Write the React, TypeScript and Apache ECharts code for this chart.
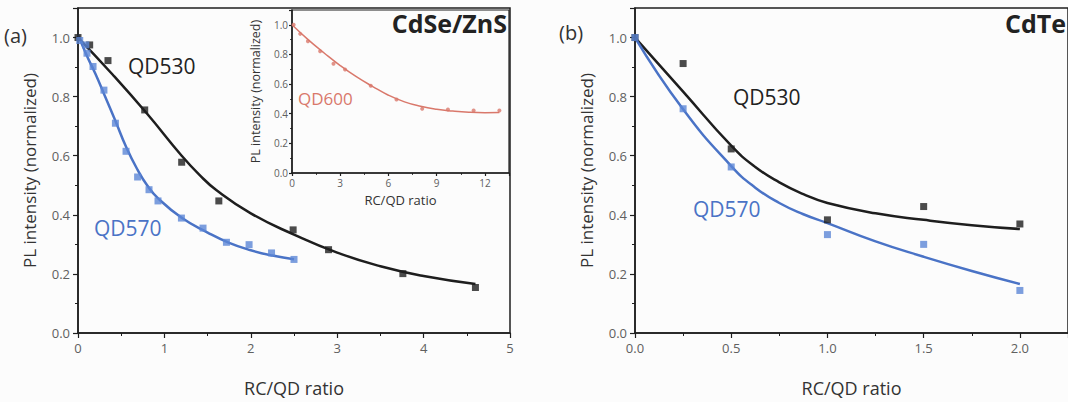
import React, { useEffect, useRef } from "react";
import * as echarts from "echarts";

// ---- Panel (a): CdSe/ZnS quantum dots ----
const qd530aPoints: number[][] = [
  [0, 1.0], [0.135, 0.975], [0.347, 0.922], [0.772, 0.755], [1.2, 0.578],
  [1.63, 0.447], [2.49, 0.349], [2.9, 0.282], [3.76, 0.201], [4.6, 0.154],
];
const qd530aFit: number[][] = [
  [0, 1.0], [0.4, 0.875], [0.8, 0.742], [1.2, 0.6], [1.4, 0.537], [1.6, 0.484],
  [2.0, 0.405], [2.5, 0.333], [3.0, 0.272], [3.5, 0.226], [4.0, 0.193], [4.6, 0.166],
];
const qd570aPoints: number[][] = [
  [0.02, 0.99], [0.09, 0.975], [0.104, 0.947], [0.174, 0.902], [0.3, 0.822],
  [0.433, 0.71], [0.556, 0.615], [0.69, 0.528], [0.822, 0.485], [0.926, 0.447],
  [1.197, 0.389], [1.447, 0.355], [1.718, 0.307], [1.98, 0.299], [2.24, 0.271],
  [2.5, 0.249],
];
const qd570aFit: number[][] = [
  [0, 1.01], [0.1, 0.94], [0.2, 0.878], [0.3, 0.81], [0.43, 0.72],
  [0.56, 0.628], [0.69, 0.552], [0.8, 0.5], [0.93, 0.455], [1.2, 0.39],
  [1.5, 0.34], [1.75, 0.305], [2.0, 0.28], [2.25, 0.262], [2.5, 0.25],
];

// ---- Inset: QD600 ----
const qd600Points: number[][] = [
  [0.1, 1.0], [0.51, 0.939], [0.99, 0.889], [1.75, 0.822], [2.58, 0.737],
  [3.3, 0.698], [4.9, 0.589], [6.5, 0.496], [8.1, 0.434], [9.7, 0.429],
  [11.3, 0.422], [12.9, 0.422],
];
const qd600Fit: number[][] = [
  [0, 1.0], [1, 0.9], [2, 0.81], [3, 0.725], [4, 0.65], [5, 0.585],
  [6, 0.525], [7, 0.48], [8, 0.45], [9, 0.43], [10, 0.418], [11, 0.41],
  [12, 0.407], [12.9, 0.408],
];

// ---- Panel (b): CdTe quantum dots ----
const qd530bPoints: number[][] = [
  [0, 1.0], [0.25, 0.912], [0.5, 0.623], [1.0, 0.383], [1.5, 0.428], [2.0, 0.369],
];
const qd530bFit: number[][] = [
  [0, 1.0], [0.25, 0.817], [0.5, 0.634], [0.625, 0.562], [0.75, 0.51],
  [0.875, 0.47], [1.0, 0.44], [1.25, 0.405], [1.5, 0.383], [1.75, 0.365], [2.0, 0.352],
];
const qd570bPoints: number[][] = [
  [0, 1.0], [0.25, 0.759], [0.5, 0.562], [1.0, 0.333], [1.5, 0.3], [2.0, 0.144],
];
const qd570bFit: number[][] = [
  [0, 1.0], [0.25, 0.757], [0.5, 0.565], [0.625, 0.492], [0.75, 0.44],
  [0.875, 0.402], [1.0, 0.372], [1.25, 0.31], [1.5, 0.258], [1.75, 0.21], [2.0, 0.166],
];

const yName = "PL intensity (normalized)";
const xName = "RC/QD ratio";

const FONT = "'Open Sans', 'Noto Sans', sans-serif";
const INK = "#1e1e1e";
const LABEL = "#606060";
const BLUE_LINE = "#4a73c6";
const BLUE_PT = "#5b86d6";
const RED = "#d9786b";

function axisBase(fontSize: number, tickLen: number, showMax: boolean, formatter: (v: number) => string, margin: number) {
  return {
    axisLine: { show: true, onZero: false, lineStyle: { color: INK, width: 1.5 } },
    axisTick: { show: true, inside: false, length: tickLen, lineStyle: { color: INK, width: 1.2 } },
    minorTick: { show: true, splitNumber: 2, length: tickLen * 0.6, lineStyle: { color: INK, width: 1 } },
    splitLine: { show: false },
    minorSplitLine: { show: false },
    axisLabel: { color: LABEL, fontSize, fontFamily: FONT, showMaxLabel: showMax, formatter, margin },
  };
}

export default function App() {
  const ref = useRef<HTMLDivElement>(null);

  useEffect(() => {
    if (!ref.current) return;
    const chart = echarts.init(ref.current, undefined, { renderer: "svg" });

    const fmt1 = (v: number) => v.toFixed(1);
    const fmt0 = (v: number) => String(Math.round(v));

    const scatter = (xi: number, data: number[][], color: string, size: number, symbol = "rect") => ({
      type: "scatter",
      xAxisIndex: xi,
      yAxisIndex: xi,
      data,
      symbol,
      symbolSize: size,
      itemStyle: { color },
      z: 3,
    });
    const fit = (xi: number, data: number[][], color: string, width: number) => ({
      type: "line",
      xAxisIndex: xi,
      yAxisIndex: xi,
      data,
      smooth: 0.5,
      showSymbol: false,
      symbol: "none",
      lineStyle: { color, width },
      z: 2,
    });

    chart.setOption({
      animation: false,
      backgroundColor: "#fcfcfc",
      grid: [
        { left: 78, top: 8, width: 432, height: 328, show: true, borderColor: INK, borderWidth: 1.5, backgroundColor: "transparent" },
        { left: 292, top: 10, width: 217, height: 163, show: true, borderColor: INK, borderWidth: 1.2, backgroundColor: "transparent" },
        { left: 635, top: 8, width: 436, height: 329, show: true, borderColor: INK, borderWidth: 1.5, backgroundColor: "transparent" },
      ],
      xAxis: [
        {
          ...axisBase(13, 5, true, fmt0, 8), gridIndex: 0, type: "value", min: 0, max: 5, interval: 1,
          name: xName, nameLocation: "middle", nameGap: 46,
          nameTextStyle: { color: "#333", fontFamily: FONT, fontSize: 18 },
        },
        {
          ...axisBase(10, 3, false, fmt0, 5), gridIndex: 1, type: "value", min: 0, max: 13.5, interval: 3,
          name: xName, nameLocation: "middle", nameGap: 20,
          nameTextStyle: { color: "#333", fontFamily: FONT, fontSize: 13 },
        },
        {
          ...axisBase(13, 5, false, fmt1, 8), gridIndex: 2, type: "value", min: 0, max: 2.25, interval: 0.5,
          name: xName, nameLocation: "middle", nameGap: 46,
          nameTextStyle: { color: "#333", fontFamily: FONT, fontSize: 18 },
        },
      ],
      yAxis: [
        {
          ...axisBase(13, 5, false, fmt1, 8), gridIndex: 0, type: "value", min: 0, max: 1.1, interval: 0.2,
          name: yName, nameLocation: "middle", nameGap: 40, nameRotate: 90,
          nameTextStyle: { color: "#333", fontFamily: FONT, fontSize: 17 },
        },
        {
          ...axisBase(10, 3, false, fmt1, 4), gridIndex: 1, type: "value", min: 0, max: 1.1, interval: 0.2,
          name: yName, nameLocation: "middle", nameGap: 30, nameRotate: 90,
          nameTextStyle: { color: "#333", fontFamily: FONT, fontSize: 12.5 },
        },
        {
          ...axisBase(13, 5, false, fmt1, 8), gridIndex: 2, type: "value", min: 0, max: 1.1, interval: 0.2,
          name: yName, nameLocation: "middle", nameGap: 40, nameRotate: 90,
          nameTextStyle: { color: "#333", fontFamily: FONT, fontSize: 17 },
        },
      ],
      series: [
        fit(0, qd530aFit, INK, 2.5),
        scatter(0, qd530aPoints, INK, 7),
        fit(0, qd570aFit, BLUE_LINE, 2.5),
        scatter(0, qd570aPoints, BLUE_PT, 7),
        fit(1, qd600Fit, RED, 1.5),
        scatter(1, qd600Points, RED, 4, "circle"),
        fit(2, qd530bFit, INK, 2.5),
        scatter(2, qd530bPoints, INK, 7),
        fit(2, qd570bFit, BLUE_LINE, 2.5),
        scatter(2, qd570bPoints, BLUE_PT, 7),
      ],
      graphic: [
        { type: "text", left: 4, top: 25, style: { text: "(a)", fontSize: 20, fontFamily: FONT, fill: "#333" } },
        { type: "text", left: 559, top: 22, style: { text: "(b)", fontSize: 20, fontFamily: FONT, fill: "#333" } },
        { type: "text", left: 128, top: 55, style: { text: "QD530", fontSize: 21, fontFamily: FONT, fill: "#222" } },
        { type: "text", left: 94, top: 217, style: { text: "QD570", fontSize: 21, fontFamily: FONT, fill: BLUE_LINE } },
        { type: "text", left: 298, top: 90, style: { text: "QD600", fontSize: 17, fontFamily: FONT, fill: RED } },
        { type: "text", right: 561, top: 10, style: { text: "CdSe/ZnS", fontSize: 25, fontWeight: "bold", fontFamily: FONT, fill: "#222" } },
        { type: "text", left: 1005, top: 10, style: { text: "CdTe", fontSize: 25, fontWeight: "bold", fontFamily: FONT, fill: "#222" } },
        { type: "text", left: 733, top: 86, style: { text: "QD530", fontSize: 21, fontFamily: FONT, fill: "#222" } },
        { type: "text", left: 693, top: 198, style: { text: "QD570", fontSize: 21, fontFamily: FONT, fill: BLUE_LINE } },
      ],
    });

    return () => chart.dispose();
  }, []);

  return (
    <div
      ref={ref}
      style={{ position: "absolute", left: 0, top: 0, width: 1068, height: 402, overflow: "hidden" }}
    />
  );
}
